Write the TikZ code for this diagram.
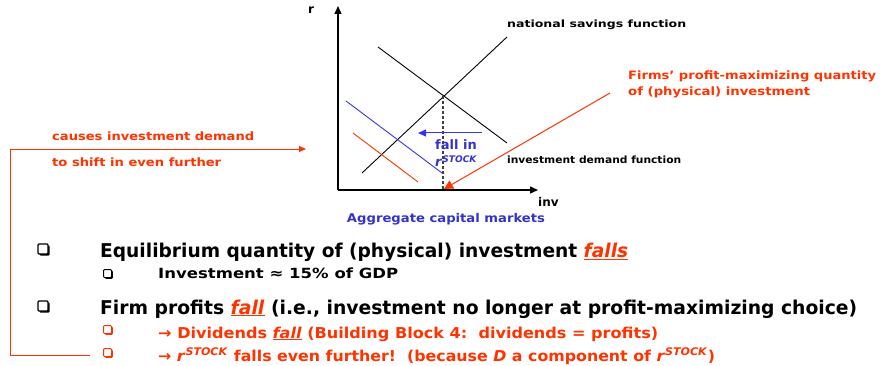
\documentclass[tikz,border=0pt]{standalone}
\usepackage{fontspec}
\setmainfont{DejaVu Sans}
\usetikzlibrary{arrows.meta,shadows}
\definecolor{ored}{HTML}{FF3300}
\definecolor{pblue}{HTML}{3333CC}
\definecolor{lblue}{HTML}{3333FF}
\newcommand\fitw[2]{\resizebox{#1}{\height}{#2}}
\newcommand\rstock{\textit{r}\textsuperscript{\textit{STOCK}}}
\begin{document}
\begin{tikzpicture}[x=1pt,y=-1pt,
  txt/.style={inner sep=0pt,anchor=base west,font=\bfseries},
  axis/.style={line width=1.4pt,-{Triangle[length=8pt,width=7pt]}},
  curve/.style={line width=0.9pt},
  bigbox/.style={draw=#1,fill=white,line width=1.1pt,rounded corners=1pt,inner sep=0pt,
    minimum width=10pt,minimum height=10pt,
    drop shadow={shadow xshift=1.6pt,shadow yshift=-1.6pt,fill=#1,opacity=1}},
  smallbox/.style={draw=#1,fill=white,line width=1pt,rounded corners=1pt,inner sep=0pt,
    minimum width=8pt,minimum height=8pt,
    drop shadow={shadow xshift=1.3pt,shadow yshift=-1.3pt,fill=#1,opacity=1}}]
\useasboundingbox (0,0) rectangle (881,366);
% axes
\coordinate (O) at (338,190);
\coordinate (ytop) at (338,6);
\coordinate (xend) at (538,190);
\draw[axis] (O) -- (ytop);
\draw[axis] (O) -- (xend);
\node[txt,font=\bfseries\fontsize{12}{14}\selectfont] (rlab) at (308,14) {r};
\node[txt,font=\bfseries\fontsize{12}{14}\selectfont] (invlab) at (538,207) {inv};
% curves
\coordinate (s1) at (362,173); \coordinate (s2) at (507,37);
\coordinate (d1) at (378,47); \coordinate (d2) at (507,143);
\coordinate (E) at (443,96);
\coordinate (Ex) at (443,190);
\coordinate (b1) at (346,101); \coordinate (b2) at (442,173);
\coordinate (c1) at (353,133); \coordinate (c2) at (418,182);
\draw[curve] (s1) -- (s2);
\draw[curve] (d1) -- (d2);
\draw[curve,dashed,line width=1.1pt,dash pattern=on 3pt off 2pt,black!75] (E) -- (Ex);
\draw[curve,lblue] (b1) -- (b2);
\draw[curve,ored] (c1) -- (c2);
% blue shift arrow
\coordinate (ba1) at (482,133); \coordinate (ba2) at (418,133);
\draw[lblue,line width=1pt,-{Triangle[length=8pt,width=7pt]}] (ba1) -- (ba2);
\node[inner sep=0pt,anchor=base,font=\bfseries\fontsize{13}{15}\selectfont,pblue] (fallin) at (456,150) {fall in};
\node[txt,font=\bfseries\fontsize{13}{15}\selectfont,pblue] (rst) at (435,167) {\rstock};
% red arrow
\coordinate (ra1) at (610,93); \coordinate (ra2) at (444,189);
\draw[ored,line width=1pt,-{Triangle[length=9pt,width=9pt]}] (ra1) -- (ra2);
% labels
\node[txt,font=\bfseries\fontsize{10}{12}\selectfont] (nsf) at (507,28) {\fitw{179pt}{national savings function}};
\node[txt,font=\bfseries\fontsize{10}{12}\selectfont] (idf) at (507,164) {\fitw{174pt}{investment demand function}};
\node[txt,font=\bfseries\fontsize{11.5}{14}\selectfont,ored] (firms1) at (628,80) {\fitw{248pt}{Firms’ profit-maximizing quantity}};
\node[txt,font=\bfseries\fontsize{11.5}{14}\selectfont,ored] (firms2) at (628,96) {\fitw{182pt}{of (physical) investment}};
\node[inner sep=0pt,anchor=base,font=\bfseries\fontsize{12}{14}\selectfont,pblue] (agg) at (446,223) {\fitw{198pt}{Aggregate capital markets}};
\node[txt,font=\bfseries\fontsize{11.5}{14}\selectfont,ored] (causes1) at (52,141) {\fitw{202pt}{causes investment demand}};
\node[txt,font=\bfseries\fontsize{11.5}{14}\selectfont,ored] (causes2) at (52,167) {\fitw{169pt}{to shift in even further}};
% bracket connector
\coordinate (k1) at (90,355); \coordinate (k2) at (10,355);
\coordinate (k3) at (10,149); \coordinate (k4) at (306,149);
\draw[ored,line width=0.9pt,-{Triangle[length=7pt,width=6pt]}] (k1) -- (k2) -- (k3) -- (k4);
% bullets
\node[bigbox=black] (B1) at (43,249) {};
\node[bigbox=black] (B2) at (43,306) {};
\node[smallbox=black] (b1b) at (107.5,273.5) {};
\node[smallbox=ored] (b2b) at (107.5,329.5) {};
\node[smallbox=ored] (b3b) at (107.5,352.5) {};
% text lines
\node[txt,font=\bfseries\fontsize{19}{22}\selectfont] (L1) at (100,258) {\fitw{528pt}{Equilibrium quantity of (physical) investment \textcolor{ored}{\underline{\textit{falls}}}}};
\node[txt,font=\bfseries\fontsize{14}{16}\selectfont] (L2) at (158,279) {\fitw{240pt}{Investment ≈ 15\% of GDP}};
\node[txt,font=\bfseries\fontsize{19}{22}\selectfont] (L3) at (100,314) {\fitw{757pt}{Firm profits \textcolor{ored}{\underline{\textit{fall}}} (i.e., investment no longer at profit-maximizing choice)}};
\node[txt,font=\bfseries\fontsize{15}{17}\selectfont,ored] (L4) at (158,338) {\fitw{500pt}{→ Dividends \underline{\textit{fall}} (Building Block 4:\ \ dividends = profits)}};
\node[txt,font=\bfseries\fontsize{15}{17}\selectfont,ored] (L5) at (158,361) {\fitw{557pt}{→ \rstock{} falls even further!\ \ (because \textit{D} a component of \rstock)}};
\end{tikzpicture}
\end{document}
